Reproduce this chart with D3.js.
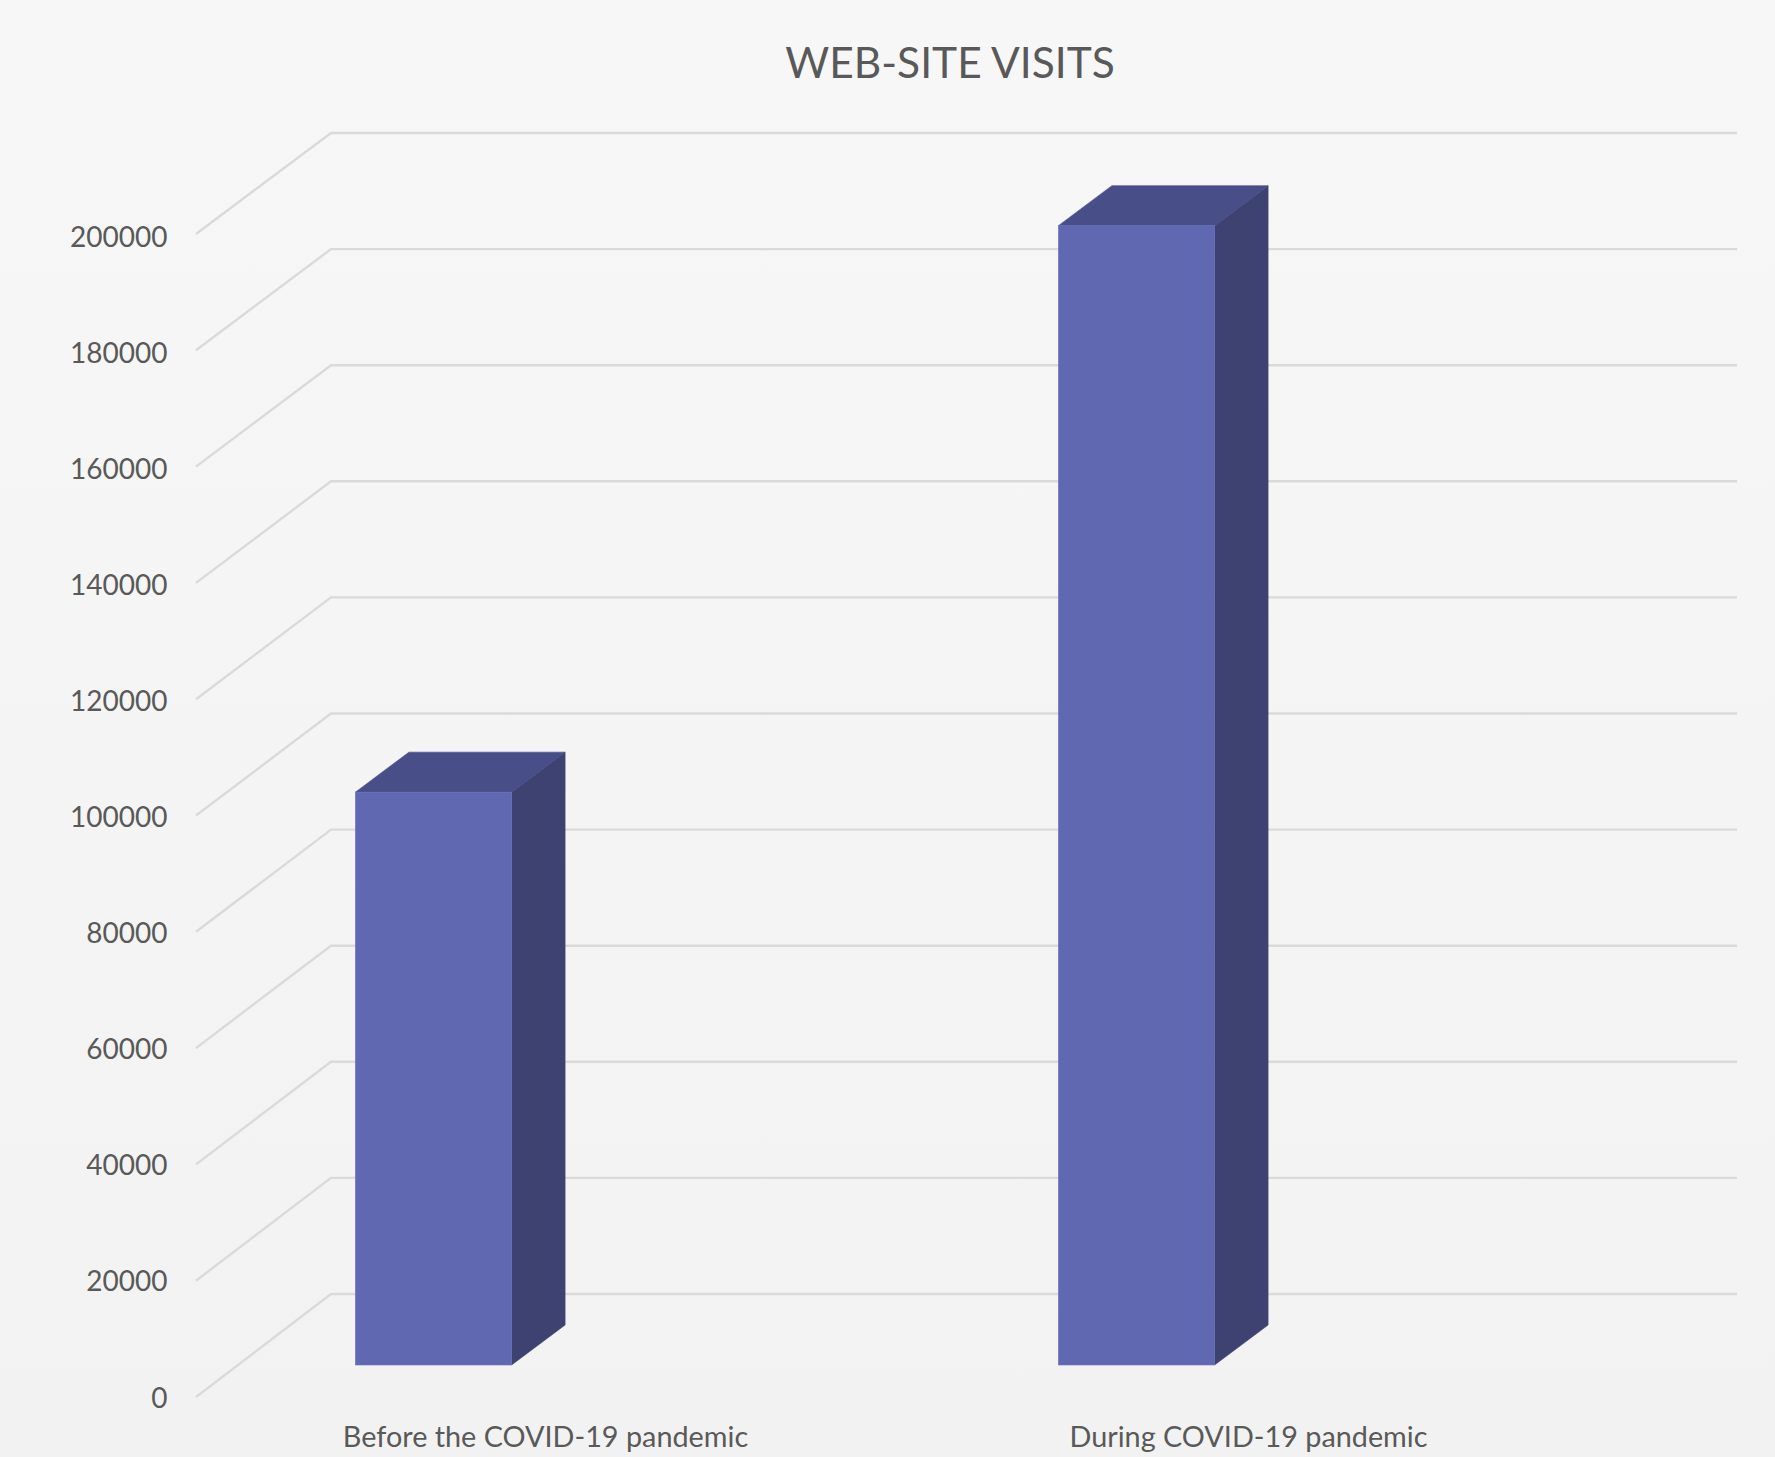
<!DOCTYPE html>
<html><head><meta charset="utf-8">
<script src="https://cdn.jsdelivr.net/npm/d3@7"></script>
<style>html,body{margin:0;padding:0;background:#f5f5f5}svg{display:block}text{font-family:Lato,sans-serif}</style>
</head><body><div id="c"></div>
<script>
const categories = ["Before the COVID-19 pandemic", "During COVID-19 pandemic"];
const visits = [98600, 196100];
const yTicks = [0,20000,40000,60000,80000,100000,120000,140000,160000,180000,200000];
const chartTitle = "WEB-SITE VISITS";

const W=1775,H=1457;
const svg=d3.select("#c").append("svg").attr("width",W).attr("height",H);
const grad=svg.append("defs").append("linearGradient").attr("id","bg").attr("x1",0).attr("x2",0).attr("y1",0).attr("y2",1);
grad.append("stop").attr("offset","0").attr("stop-color","#f7f7f7");
grad.append("stop").attr("offset","1").attr("stop-color","#f2f2f2");
svg.append("rect").attr("width",W).attr("height",H).attr("fill","url(#bg)");

svg.append("text").attr("x",950).attr("y",78).attr("text-anchor","middle")
  .attr("font-size",42.5).attr("fill","#595959").text(chartTitle);

const yFront=d3.scaleLinear().domain([0,200000]).range([1397,234]);
const yLabel=d3.scaleLinear().domain([0,200000]).range([1397,236]);
const yBack=d3.scaleLinear().domain([0,200000]).range([1294,133]);
const yBar=d3.scaleLinear().domain([0,200000]).range([1365,203]);
const x=d3.scaleBand().domain(categories).range([196,1602]);
const frontL=196,backL=331,rightEnd=1737;

svg.append("g").selectAll("path").data(yTicks).join("path")
  .attr("d",t=>d3.line()([[frontL,yFront(t)],[backL,yBack(t)],[rightEnd,yBack(t)]]))
  .attr("fill","none").attr("stroke","#dadada").attr("stroke-width",2.4);

const axis=d3.axisLeft(yLabel).tickValues(yTicks).tickSize(0).tickPadding(0).tickFormat(d3.format("d"));
const ag=svg.append("g").attr("transform","translate(167.5,0)").call(axis);
ag.select(".domain").remove();
ag.selectAll("text").attr("font-size",28).attr("fill","#595959").attr("font-family","Lato,sans-serif").attr("dy","0.36em");

const barOffset=-114,barW=156.2,dX=53.5,dY=40;
const bars=svg.append("g").selectAll("g").data(categories.map((c,i)=>({c,v:visits[i]}))).join("g");
const L=d=>x(d.c)+x.bandwidth()/2+barOffset-barW/2;
bars.append("path").attr("fill","#3e4271").attr("stroke","#3e4271").attr("stroke-width",0.6)
  .attr("d",d=>{const l=L(d)+barW,t=yBar(d.v),b=yBar(0);return d3.line()([[l,t],[l+dX,t-dY],[l+dX,b-dY],[l,b]])+"Z";});
bars.append("path").attr("fill","#484e88").attr("stroke","#484e88").attr("stroke-width",0.6)
  .attr("d",d=>{const l=L(d),t=yBar(d.v);return d3.line()([[l,t],[l+dX,t-dY],[l+barW+dX,t-dY],[l+barW,t]])+"Z";});
bars.append("rect").attr("fill","#6068b1").attr("stroke","#6a72ba").attr("stroke-width",0.6)
  .attr("x",L).attr("y",d=>yBar(d.v)).attr("width",barW).attr("height",d=>yBar(0)-yBar(d.v));

svg.append("g").selectAll("text").data(categories).join("text")
  .attr("x",c=>x(c)+x.bandwidth()/2-2).attr("y",1447).attr("text-anchor","middle")
  .attr("font-size",28.8).attr("fill","#595959").text(c=>c);
</script></body></html>
